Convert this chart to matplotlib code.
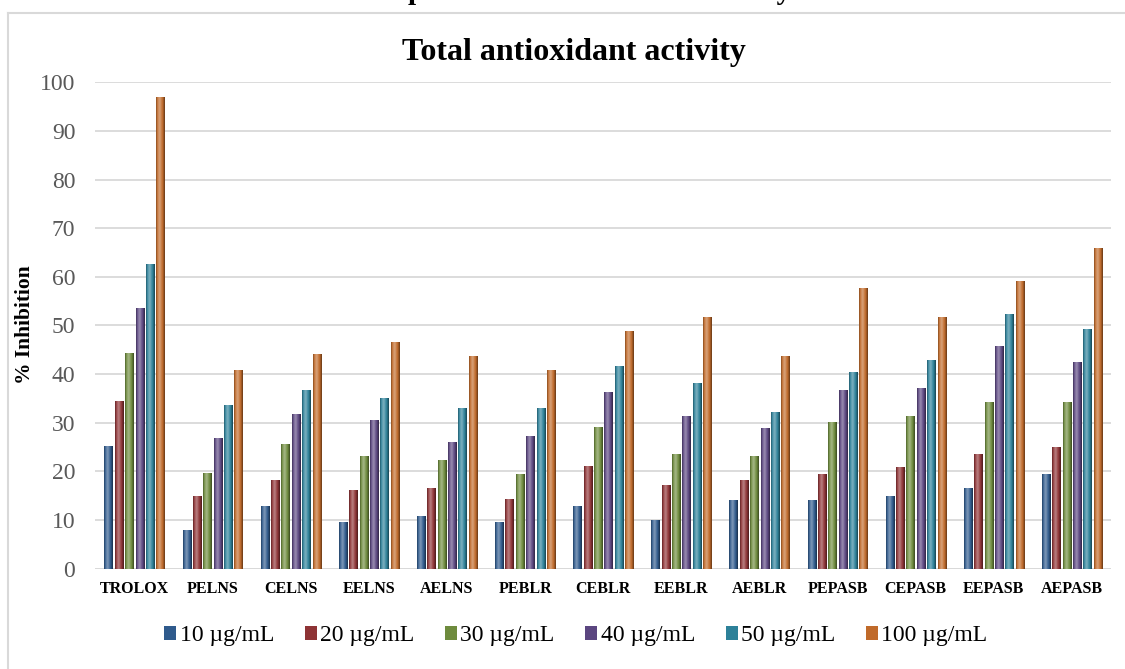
import matplotlib
matplotlib.use("Agg")
import matplotlib.pyplot as plt
import matplotlib.colors as mcolors
from matplotlib.patches import Patch
from matplotlib.lines import Line2D
import numpy as np

samples = ["TROLOX", "PELNS", "CELNS", "EELNS", "AELNS", "PEBLR", "CEBLR",
           "EEBLR", "AEBLR", "PEPASB", "CEPASB", "EEPASB", "AEPASB"]
concentrations = ["10 µg/mL", "20 µg/mL", "30 µg/mL", "40 µg/mL", "50 µg/mL", "100 µg/mL"]

conc_10 = [25.2, 8.0, 12.9, 9.5, 10.8, 9.5, 12.9, 10.0, 14.1, 14.0, 14.9, 16.5, 19.5]
conc_20 = [34.5, 15.0, 18.2, 16.2, 16.6, 14.3, 21.1, 17.1, 18.2, 19.5, 20.8, 23.6, 25.0]
conc_30 = [44.3, 19.6, 25.7, 23.2, 22.3, 19.5, 29.0, 23.6, 23.2, 30.2, 31.4, 34.3, 34.3]
conc_40 = [53.6, 26.8, 31.7, 30.6, 26.0, 27.3, 36.3, 31.3, 28.9, 36.7, 37.1, 45.8, 42.4]
conc_50 = [62.6, 33.7, 36.7, 35.1, 33.0, 33.0, 41.6, 38.2, 32.2, 40.4, 42.8, 52.3, 49.3]
conc_100 = [96.9, 40.8, 44.1, 46.5, 43.6, 40.8, 48.9, 51.8, 43.7, 57.6, 51.8, 59.2, 65.9]

series = [conc_10, conc_20, conc_30, conc_40, conc_50, conc_100]
palette = ["#2f5a8c", "#8e3335", "#6e8b3d", "#5b4680", "#2d8199", "#c06a2a"]

plt.rcParams["font.family"] = ["Liberation Serif", "DejaVu Serif"]


def bevel(color, n=24):
    # dark edges, lighter band left of centre, like the old 3D bar look
    base = np.array(mcolors.to_rgb(color))
    t = np.linspace(0, 1, n)
    light = 0.35 * np.exp(-((t - 0.4) / 0.22) ** 2)
    dark = 0.45 * np.clip((t - 0.75) / 0.25, 0, 1) + 0.3 * np.clip((0.12 - t) / 0.12, 0, 1)
    rgb = base[None, :] * (1 - dark[:, None]) + (1 - base[None, :]) * light[:, None]
    return np.clip(rgb, 0, 1)[None, :, :]


fig = plt.figure(figsize=(11.25, 6.69), dpi=100)
ax = fig.add_axes([0.0848, 0.150, 0.9028, 0.727])

x = np.arange(len(samples))
slot = 0.133
width = 0.105
for i, (vals, col) in enumerate(zip(series, palette)):
    bars = ax.bar(x + (i - 2.5) * slot, vals, width=width, color=col, zorder=2,
                  linewidth=0)
    img = bevel(col)
    for b in bars:
        x0 = b.get_x()
        ax.imshow(img, extent=(x0, x0 + b.get_width(), 0, b.get_height()),
                  aspect="auto", zorder=3, interpolation="bilinear")

ax.set_xlim(-0.5, len(samples) - 0.5)
ax.set_ylim(0, 100)
ax.set_yticks(np.arange(0, 101, 10))
ax.yaxis.grid(True, color="#d9d9d9", linewidth=1.3, zorder=0)
ax.set_axisbelow(True)
for s in ax.spines.values():
    s.set_visible(False)
ax.axhline(0, color="#d9d9d9", linewidth=1.3, zorder=1)

ax.set_xticks(x)
ax.set_xticklabels(samples, fontsize=11.5, fontweight="bold")
ax.tick_params(axis="x", length=0, pad=9)
ax.tick_params(axis="y", length=0, labelsize=17, labelcolor="#595959", pad=14.5)

fig.text(25 / 1125, 1 - 325 / 669, "% Inhibition", rotation=90, ha="center",
         va="center", fontsize=15.5, fontweight="bold")

fig.text(574 / 1125, 0.921, "Total antioxidant activity", ha="center", va="center",
         fontsize=23, fontweight="bold")
# caption above the chart, mostly cut off at the top edge as in the source
fig.text(575 / 1125, 1 + 1 / 669, "Graph 5: Total antioxidant activity", ha="center",
         va="baseline", fontsize=21, fontweight="bold")

# chart area border (left and top visible)
fig.add_artist(Line2D([7.9 / 1125, 7.9 / 1125], [0, 1 - 12.7 / 669],
                      transform=fig.transFigure, color="#d9d9d9", linewidth=1.5))
fig.add_artist(Line2D([7.9 / 1125, 1], [1 - 12.7 / 669, 1 - 12.7 / 669],
                      transform=fig.transFigure, color="#d9d9d9", linewidth=1.5))

handles = [Patch(facecolor=c, edgecolor="none") for c in palette]
fig.legend(handles, concentrations, loc="center", bbox_to_anchor=(576 / 1125, 1 - 636 / 669),
           ncol=6, frameon=False, fontsize=17, handlelength=0.5, handleheight=0.5,
           handletextpad=0.15, columnspacing=1.3)

fig.savefig("out.png", dpi=100)
